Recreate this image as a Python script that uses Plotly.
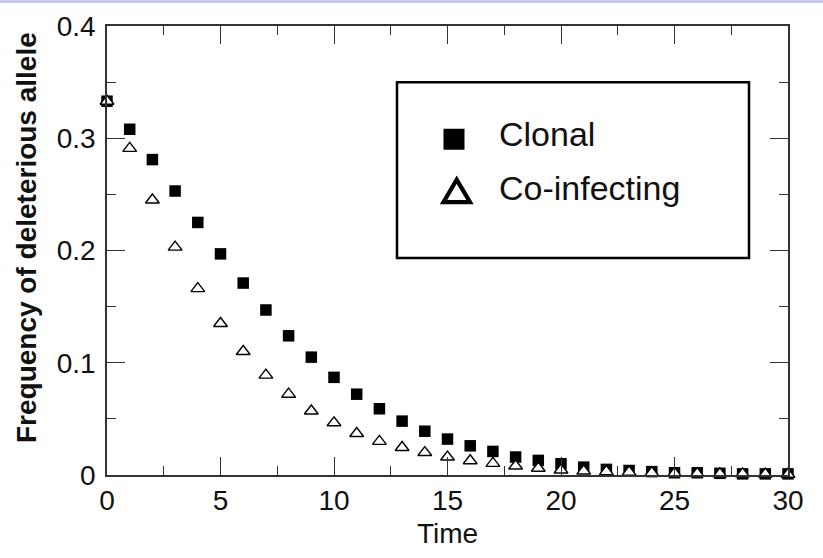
import plotly.graph_objects as go

# Frequency of the deleterious allele over time under two infection regimes
time = list(range(31))
clonal = [0.333, 0.308, 0.281, 0.253, 0.225, 0.197, 0.171, 0.147, 0.124, 0.105,
          0.087, 0.072, 0.059, 0.048, 0.039, 0.032, 0.026, 0.021, 0.016, 0.013,
          0.010, 0.007, 0.005, 0.004, 0.003, 0.002, 0.002, 0.0015, 0.001, 0.001,
          0.001]
coinfecting = [0.333, 0.291, 0.245, 0.203, 0.166, 0.135, 0.110, 0.089, 0.072, 0.057,
               0.0465, 0.037, 0.030, 0.0245, 0.020, 0.016, 0.0127, 0.0104, 0.008, 0.006,
               0.0045, 0.0035, 0.003, 0.0025, 0.002, 0.0015, 0.0012, 0.001, 0.001, 0.0008,
               0.0007]

x_ticks = [0, 5, 10, 15, 20, 25, 30]
y_ticks = [0, 0.1, 0.2, 0.3, 0.4]
legend_names = ["Clonal", "Co-infecting"]

FONT = "Liberation Sans, Arial, Helvetica, sans-serif"
INK = "#111111"

# plot area in pixels: left 107, right 788, top 25.5, bottom 475.5
L, R, T, B = 107, 788, 25.5, 475.5


def px(xp):
    return (xp - L) / (R - L)


def py(yp):
    return (B - yp) / (B - T)


fig = go.Figure()

fig.add_trace(go.Scatter(
    x=time, y=clonal, mode="markers", name=legend_names[0],
    marker=dict(symbol="square", size=11.5, color="black", line=dict(width=0)),
    cliponaxis=False, showlegend=False,
))
fig.add_trace(go.Scatter(
    x=time, y=coinfecting, mode="markers", name=legend_names[1],
    marker=dict(symbol="triangle-up", size=12, color="white",
                line=dict(width=1.4, color="black")),
    cliponaxis=False, showlegend=False,
))

# legend key square on a hidden unit-square overlay
fig.add_trace(go.Scatter(
    x=[px(454)], y=[py(139)], mode="markers", xaxis="x2", yaxis="y2",
    marker=dict(symbol="square", size=21, color="black", line=dict(width=0)),
    cliponaxis=False, showlegend=False, hoverinfo="skip",
))

axis_common = dict(
    showgrid=False, zeroline=False, showline=True, linecolor="#333333", linewidth=1.5,
    mirror="ticks", ticks="inside", tickcolor="#333333", tickwidth=1.3, ticklen=18,
    tickfont=dict(family=FONT, size=28, color=INK),
)

tri = [(443.5, 202), (470, 202), (456.7, 179.5)]
tri_path = "M {} {} L {} {} L {} {} Z".format(
    px(tri[0][0]), py(tri[0][1]), px(tri[1][0]), py(tri[1][1]), px(tri[2][0]), py(tri[2][1]))

fig.update_layout(
    width=823, height=558,
    margin=dict(l=L, r=823 - R, t=T, b=558 - B),
    paper_bgcolor="white", plot_bgcolor="white",
    xaxis=dict(range=[0, 30], tickvals=x_ticks, ticklabelstandoff=0,
               minor=dict(dtick=2.5, ticks="inside", ticklen=9, tickcolor="#333333",
                          tickwidth=1.3, showgrid=False),
               **axis_common),
    yaxis=dict(range=[0, 0.4], tickvals=y_ticks, ticklabelstandoff=4,
               minor=dict(dtick=0.05, ticks="inside", ticklen=9, tickcolor="#333333",
                          tickwidth=1.3, showgrid=False),
               **axis_common),
    xaxis2=dict(overlaying="x", range=[0, 1], visible=False),
    yaxis2=dict(overlaying="y", range=[0, 1], visible=False),
    shapes=[
        # legend frame
        dict(type="rect", xref="paper", yref="paper",
             x0=px(397), x1=px(749), y0=py(258), y1=py(82),
             line=dict(color="black", width=2.5), fillcolor="rgba(0,0,0,0)"),
        # legend key triangle
        dict(type="path", xref="paper", yref="paper", path=tri_path,
             line=dict(color="black", width=4.2), fillcolor="white"),
        # header strip along the top edge
        dict(type="rect", xref="paper", yref="paper", x0=-0.2, x1=1.1,
             y0=py(2.5), y1=1.2, line=dict(width=0), fillcolor="#c8c8f0"),
    ],
    annotations=[
        dict(text=legend_names[0], xref="paper", yref="paper",
             x=px(497), y=py(134), xanchor="left", yanchor="middle",
             showarrow=False, font=dict(family=FONT, size=34, color=INK)),
        dict(text=legend_names[1], xref="paper", yref="paper",
             x=px(497), y=py(188), xanchor="left", yanchor="middle",
             showarrow=False, font=dict(family=FONT, size=34, color=INK)),
        dict(text="Time", xref="paper", yref="paper",
             x=px(447), y=py(534), xanchor="center", yanchor="middle",
             showarrow=False, font=dict(family=FONT, size=28, color=INK)),
        dict(text="<b>Frequency of deleterious allele</b>", xref="paper", yref="paper",
             x=px(26), y=py(238), xanchor="center", yanchor="middle",
             textangle=-90, showarrow=False, font=dict(family=FONT, size=28, color=INK)),
    ],
)

fig.write_html("out.html")
